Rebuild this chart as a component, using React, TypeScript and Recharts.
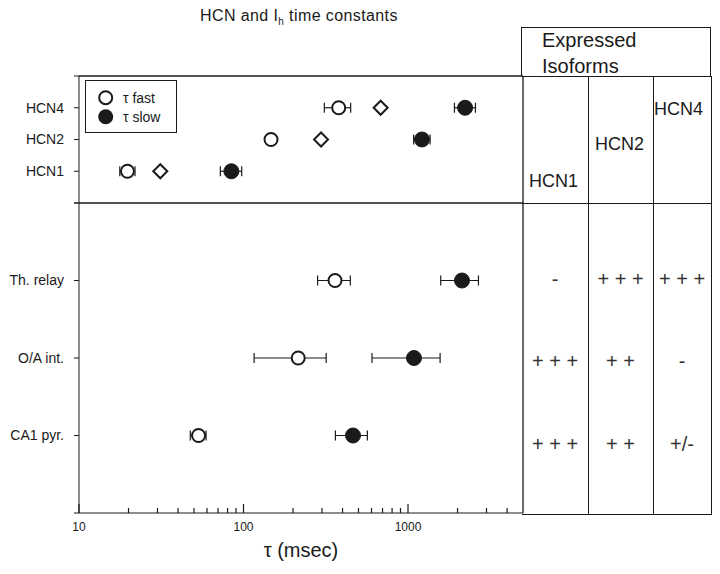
import React from 'react';
import { ScatterChart, Scatter, XAxis, YAxis, ErrorBar, ReferenceLine } from 'recharts';

// HCN isoforms (expressed in cells), rows bottom -> top
const isoformRows = ['HCN1', 'HCN2', 'HCN4'];
const isoFast = [19.7, 147, 379];
const isoFastLo = [17.7, 147, 310];
const isoFastHi = [21.9, 147, 448];
const isoMid = [31.2, 296, 682];
const isoSlow = [84.4, 1216, 2223];
const isoSlowLo = [72.3, 1082, 1915];
const isoSlowHi = [97.5, 1362, 2570];

// native Ih in cell types, rows bottom -> top
const cellRows = ['CA1 pyr.', 'O/A int.', 'Th. relay'];
const cellFast = [53.3, 215, 360];
const cellFastLo = [47.5, 116, 282];
const cellFastHi = [59.2, 318, 446];
const cellSlow = [463, 1087, 2128];
const cellSlowLo = [362, 604, 1581];
const cellSlowHi = [566, 1567, 2680];

// expressed isoforms table, rows top -> bottom
const tableColumns = ['HCN1', 'HCN2', 'HCN4'];
const thRelayExpr = ['-', '+ + +', '+ + +'];
const oaIntExpr = ['+ + +', '+ +', '-'];
const ca1Expr = ['+ + +', '+ +', '+/-'];

const xTicks = [10, 20, 30, 40, 50, 60, 70, 80, 90, 100, 200, 300, 400, 500, 600, 700, 800, 900, 1000, 2000, 3000, 4000];
const xLabels = [10, 100, 1000];

const FONT = '"Liberation Sans", Arial, sans-serif';
const INK = '#1a1a1a';

const toPoints = (vals: number[], lo?: number[], hi?: number[]) =>
  vals.map((v, i) => ({
    y: i + 1,
    x: v,
    err: lo && hi && hi[i] > lo[i] ? [v - lo[i], hi[i] - v] : undefined,
  }));

const OpenCircle = (p: any) => <circle cx={p.cx} cy={p.cy} r={6.5} fill="#fff" stroke={INK} strokeWidth={2} />;
const FilledCircle = (p: any) => <circle cx={p.cx} cy={p.cy} r={7.5} fill={INK} stroke={INK} strokeWidth={1} />;
const Diamond = (p: any) => (
  <polygon
    points={`${p.cx},${p.cy - 7} ${p.cx + 7},${p.cy} ${p.cx},${p.cy + 7} ${p.cx - 7},${p.cy}`}
    fill="#fff"
    stroke={INK}
    strokeWidth={2}
  />
);

const LogTick = (props: any) => {
  const { x, y, payload } = props;
  const major = xLabels.includes(payload.value);
  return (
    <g>
      <line x1={x} x2={x} y1={y} y2={y - (major ? 9 : 5)} stroke={INK} strokeWidth={1.2} />
      {major && (
        <text x={x} y={y + 18} textAnchor="middle" fontSize={12} fontFamily={FONT} fill={INK}>
          {payload.value}
        </text>
      )}
    </g>
  );
};

const yAxisProps = (rows: string[]) => ({
  type: 'number' as const,
  dataKey: 'y',
  domain: [0, 4],
  ticks: [0, 1, 2, 3, 4],
  interval: 0 as const,
  tickFormatter: (v: number) => rows[v - 1] ?? '',
  width: 79,
  tickSize: 5,
  tickMargin: 10,
  stroke: INK,
  tick: { fill: INK, fontSize: 14, fontFamily: FONT },
});

const errProps = { dataKey: 'err', direction: 'x' as const, width: 5, stroke: INK, strokeWidth: 1.2 };

const colEdges = [522, 588, 653, 711];
const rowCenters = [279, 361, 444];
const tableRows = [thRelayExpr, oaIntExpr, ca1Expr];

export default function App() {
  return (
    <div style={{ position: 'absolute', left: 0, top: 0, width: 720, height: 574, background: '#fff', fontFamily: FONT, color: INK }}>
      <div style={{ position: 'absolute', left: 200, top: 8, fontSize: 16, lineHeight: '16px', letterSpacing: 0.4, whiteSpace: 'nowrap' }}>
        HCN and I<sub style={{ fontSize: 10 }}>h</sub> time constants
      </div>

      {/* upper panel: cloned isoforms */}
      <div style={{ position: 'absolute', left: 0, top: 0 }}>
        <ScatterChart width={540} height={210} margin={{ top: 76, right: 17, bottom: 7, left: 0 }}>
          <XAxis type="number" dataKey="x" scale="log" domain={[10, 5000]} allowDataOverflow hide />
          <YAxis {...yAxisProps(isoformRows)} />
          <ReferenceLine y={4} stroke={INK} strokeWidth={1.3} />
          <ReferenceLine x={5000} stroke={INK} strokeWidth={1.3} />
          <Scatter data={toPoints(isoMid)} shape={Diamond} isAnimationActive={false} />
          <Scatter data={toPoints(isoFast, isoFastLo, isoFastHi)} shape={OpenCircle} isAnimationActive={false}>
            <ErrorBar {...errProps} />
          </Scatter>
          <Scatter data={toPoints(isoSlow, isoSlowLo, isoSlowHi)} shape={FilledCircle} isAnimationActive={false}>
            <ErrorBar {...errProps} />
          </Scatter>
        </ScatterChart>
      </div>

      {/* lower panel: native cells */}
      <div style={{ position: 'absolute', left: 0, top: 0 }}>
        <ScatterChart width={540} height={574} margin={{ top: 203, right: 17, bottom: 0, left: 0 }}>
          <XAxis
            type="number"
            dataKey="x"
            scale="log"
            domain={[10, 5000]}
            allowDataOverflow
            ticks={xTicks}
            interval={0}
            tickSize={0}
            tickMargin={0}
            tickLine={false}
            tick={LogTick}
            height={61}
            stroke={INK}
            label={{ value: 'τ (msec)', position: 'insideBottom', offset: 17, fontSize: 20, fill: INK, fontFamily: FONT }}
          />
          <YAxis {...yAxisProps(cellRows)} />
          <ReferenceLine y={4} stroke={INK} strokeWidth={1.3} />
          <ReferenceLine x={5000} stroke={INK} strokeWidth={1.3} />
          <Scatter data={toPoints(cellFast, cellFastLo, cellFastHi)} shape={OpenCircle} isAnimationActive={false}>
            <ErrorBar {...errProps} />
          </Scatter>
          <Scatter data={toPoints(cellSlow, cellSlowLo, cellSlowHi)} shape={FilledCircle} isAnimationActive={false}>
            <ErrorBar {...errProps} />
          </Scatter>
        </ScatterChart>
      </div>

      {/* legend */}
      <svg style={{ position: 'absolute', left: 85, top: 80 }} width={92} height={53}>
        <rect x={0.5} y={0.5} width={91} height={52} fill="#fff" stroke={INK} strokeWidth={1} />
        <circle cx={20.7} cy={17.7} r={6.5} fill="#fff" stroke={INK} strokeWidth={2} />
        <circle cx={20.7} cy={36.7} r={7.5} fill={INK} />
        <text x={38} y={22.5} fontSize={14} fontFamily={FONT} fill={INK}>τ fast</text>
        <text x={38} y={41.5} fontSize={14} fontFamily={FONT} fill={INK}>τ slow</text>
      </svg>

      {/* expressed isoforms table */}
      <div style={{ position: 'absolute', left: 521, top: 27, width: 188, height: 48, border: `1.5px solid ${INK}`, borderBottom: 'none' }} />
      <div style={{ position: 'absolute', left: 542, top: 30, fontSize: 20, lineHeight: '20px' }}>Expressed</div>
      <div style={{ position: 'absolute', left: 542, top: 56, fontSize: 20, lineHeight: '20px' }}>Isoforms</div>
      <div style={{ position: 'absolute', left: colEdges[0], top: 76, width: colEdges[3] - colEdges[0], height: 437, borderTop: `1.5px solid ${INK}`, borderBottom: `1.5px solid ${INK}`, borderRight: `1.5px solid ${INK}` }} />
      <div style={{ position: 'absolute', left: colEdges[0], top: 203, width: colEdges[3] - colEdges[0], height: 0, borderTop: `1.5px solid ${INK}` }} />
      {[1, 2].map((k) => (
        <div key={k} style={{ position: 'absolute', left: colEdges[k], top: 76, width: 0, height: 438, borderLeft: `1.5px solid ${INK}` }} />
      ))}
      {tableColumns.map((c, i) => (
        <div key={c} style={{ position: 'absolute', left: [529, 595, 654][i], top: [187, 150, 115][i] - 15, fontSize: 18, lineHeight: '18px' }}>
          {c}
        </div>
      ))}
      {tableRows.map((row, r) =>
        row.map((txt, c) => (
          <div
            key={`${r}-${c}`}
            style={{
              position: 'absolute',
              left: colEdges[c],
              width: colEdges[c + 1] - colEdges[c],
              top: rowCenters[r] - 10,
              height: 20,
              fontSize: 20,
              lineHeight: '20px',
              textAlign: 'center',
              whiteSpace: 'pre',
              color: '#333',
            }}
          >
            {txt}
          </div>
        ))
      )}
    </div>
  );
}
